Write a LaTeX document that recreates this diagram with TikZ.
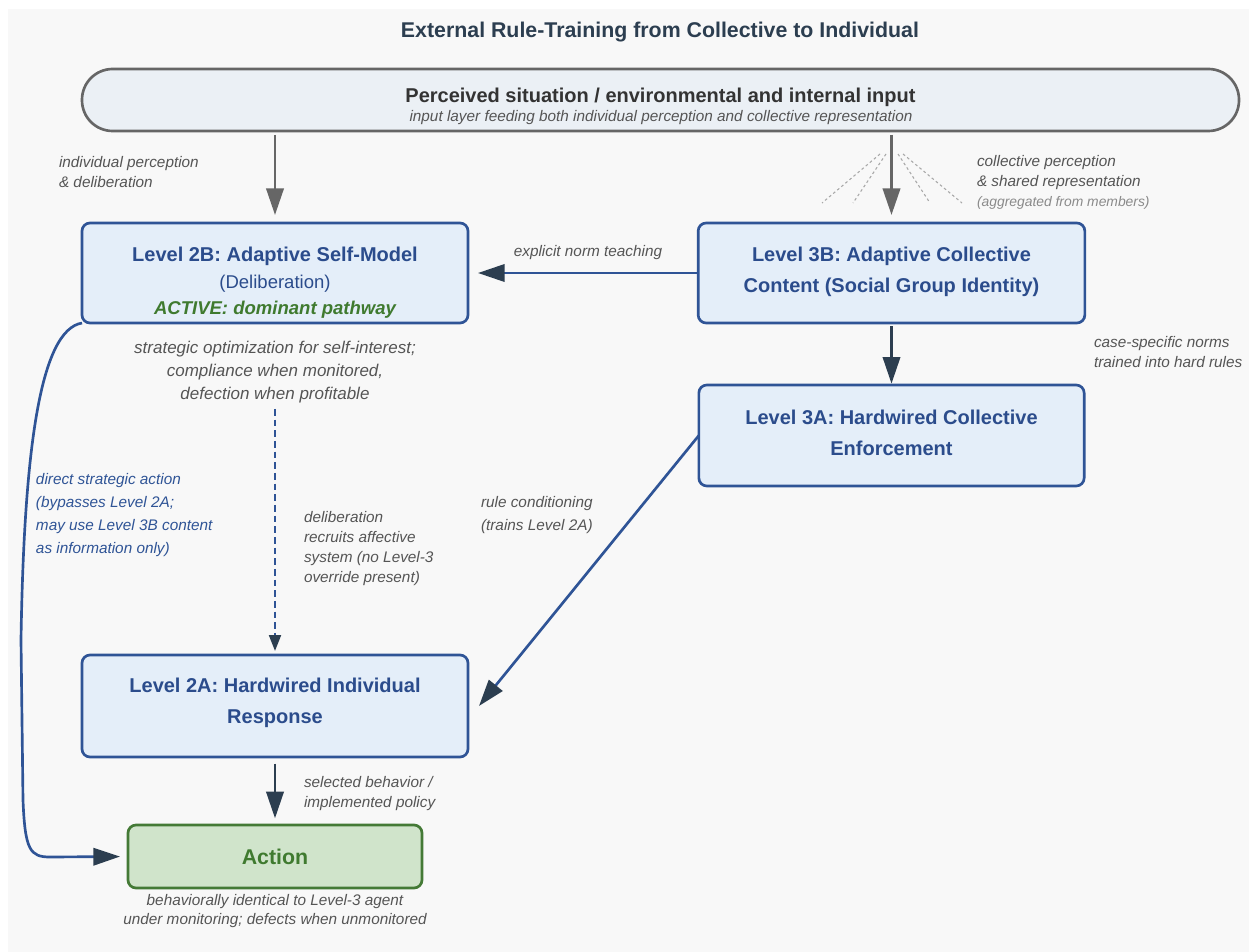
\documentclass[tikz,border=0pt]{standalone}
\usepackage{fontspec}
\setmainfont{Liberation Sans}
\usetikzlibrary{arrows.meta}

\definecolor{panel}{HTML}{F8F8F8}
\definecolor{titlecol}{HTML}{2C3E50}
\definecolor{inputfill}{HTML}{EBF0F5}
\definecolor{inputline}{HTML}{666666}
\definecolor{inputtext}{HTML}{333333}
\definecolor{notegray}{HTML}{555555}
\definecolor{faintgray}{HTML}{8A8A8A}
\definecolor{fangray}{HTML}{A8A8A8}
\definecolor{boxfill}{HTML}{E4EEF9}
\definecolor{boxline}{HTML}{2F5496}
\definecolor{boxtext}{HTML}{2B4C8C}
\definecolor{headdark}{HTML}{2C3E50}
\definecolor{actfill}{HTML}{D0E4CB}
\definecolor{actline}{HTML}{447A36}
\definecolor{acttext}{HTML}{3F7A2F}

\begin{document}
\begin{tikzpicture}[x=0.75pt,y=-0.75pt,
  every node/.style={inner sep=0pt, outer sep=0pt},
  levelbox/.style={draw=boxline, fill=boxfill, line width=2pt, rounded corners=6pt},
  inputbox/.style={draw=inputline, fill=inputfill, line width=2pt, rounded corners=23pt},
  actionbox/.style={draw=actline, fill=actfill, line width=2pt, rounded corners=6pt},
  boxhead/.style={text=boxtext, font=\fontsize{15}{23.25}\selectfont\bfseries, align=center},
  note/.style={text=notegray, font=\fontsize{11.5}{15}\selectfont\itshape},
  feed/.style={draw=inputline, line width=2.2pt, -{Triangle[length=20pt,width=13pt]}},
  link/.style={draw=boxline, line width=2pt, -{Triangle[length=20pt,width=13pt,color=headdark]}},
  darklink/.style={draw=headdark, line width=2pt, -{Triangle[length=20pt,width=13pt]}},
  dashlink/.style={draw=boxline, line width=1.5pt, dash pattern=on 5pt off 3pt,
    -{Triangle[length=12pt,width=9pt,color=headdark]}},
  fan/.style={draw=fangray, line width=0.8pt, dash pattern=on 2pt off 2pt},
]
% canvas and panel
\useasboundingbox (0,0) rectangle (1249,952);
\fill[white] (0,0) rectangle (1249,952);
\fill[panel] (8,9) rectangle (1249,952);

% title
\node[font=\fontsize{16}{19}\selectfont\bfseries, text=titlecol] (title) at (660,32)
  {External Rule-Training from Collective to Individual};

% input layer
\node[inputbox, minimum width=867.75pt, minimum height=46.5pt] (bIn) at (660.5,100) {};
\node[font=\fontsize{15}{18}\selectfont\bfseries, text=inputtext] (inHead) at (660.5,97)
  {Perceived situation / environmental and internal input};
\node[note] (inSub) at (661,118)
  {input layer feeding both individual perception and collective representation};

% level boxes
\node[levelbox, minimum width=289.5pt, minimum height=75pt] (b2B) at (275,273) {};
\node[boxhead] (t2Ba) at (275,256) {Level 2B: Adaptive Self-Model};
\node[text=boxtext, font=\fontsize{13.9}{16}\selectfont] (t2Bb) at (275,284) {(Deliberation)};
\node[text=acttext, font=\fontsize{13.9}{16}\selectfont\bfseries\itshape] (t2Bc) at (275,310)
  {ACTIVE: dominant pathway};

\node[levelbox, minimum width=290pt, minimum height=75pt] (b3B) at (891.5,273) {};
\node[boxhead] (t3B) at (891.5,271.5) {Level 3B: Adaptive Collective\\Content (Social Group Identity)};

\node[levelbox, minimum width=289pt, minimum height=75.75pt] (b3A) at (891.5,435.5) {};
\node[boxhead] (t3A) at (891.5,432.5) {Level 3A: Hardwired Collective\\Enforcement};

\node[levelbox, minimum width=289.5pt, minimum height=76.5pt] (b2A) at (275,706) {};
\node[boxhead] (t2A) at (275,702.5) {Level 2A: Hardwired Individual\\Response};

\node[actionbox, minimum width=220.5pt, minimum height=47.25pt] (bAct) at (275,856.5) {};
\node[text=acttext, font=\fontsize{16}{19}\selectfont\bfseries] (tAct) at (275,857) {Action};

% notes
\node[note, align=left, anchor=west] (lblInd) at (59,172) {individual perception\\\& deliberation};
\node[note, align=left, anchor=west] (lblCol) at (977,182)
  {collective perception\\\& shared representation\\\textcolor{faintgray}{\fontsize{10.4}{15}\selectfont(aggregated from members)}};
\node[note] (lblTeach) at (588,253) {explicit norm teaching};
\node[note, align=left, anchor=west] (lblCase) at (1094,352) {case-specific norms\\trained into hard rules};
\node[note, font=\fontsize{12.75}{17.25}\selectfont\itshape, align=center] (note2B) at (275,372)
  {strategic optimization for self-interest;\\compliance when monitored,\\defection when profitable};
\node[note, text=boxline, font=\fontsize{11.5}{17.25}\selectfont\itshape, align=left, anchor=west] (lblDirect) at (36,515.5)
  {direct strategic action\\(bypasses Level 2A;\\may use Level 3B content\\as information only)};
\node[note, align=left, anchor=west] (lblRecruit) at (304,549)
  {deliberation\\recruits affective\\system (no Level-3\\override present)};
\node[note, font=\fontsize{11.5}{17.25}\selectfont\itshape, align=left, anchor=west] (lblRule) at (481,515.5)
  {rule conditioning\\(trains Level 2A)};
\node[note, align=left, anchor=west] (lblSel) at (304,794) {selected behavior /\\implemented policy};
\node[note, font=\fontsize{11.5}{14.25}\selectfont\itshape, align=center] (lblAct) at (275,911.5)
  {behaviorally identical to Level-3 agent\\under monitoring; defects when unmonitored};

% aggregation fan under the collective feed
\draw[fan] (880,154) -- (822,203);
\draw[fan] (886,154) -- (853,203);
\draw[fan] (898,154) -- (930,203);
\draw[fan] (903,154) -- (962,203);

% connectors
\draw[feed, shorten <=3pt, shorten >=6pt] (bIn.south -| b2B.north) -- (b2B.north);
\draw[feed, shorten <=3pt, shorten >=6pt] (bIn.south -| b3B.north) -- (b3B.north);
\draw[link, shorten >=7.5pt] (b3B.west) -- (b2B.east);
\draw[darklink, shorten <=2.5pt, shorten >=1pt] (b3B.south) -- (b3A.north);
\draw[link] (b3A.west) -- ([xshift=8.25pt]b2A.east);
\draw[dashlink, shorten <=4.5pt, shorten >=3pt] (note2B.south) -- (b2A.north);
\draw[darklink, shorten <=5pt, shorten >=5pt] (b2A.south) -- (bAct.north);
\draw[link, shorten >=6pt] (b2B.south west) .. controls (40,330) and (24,450) .. (21,640)
  -- (23,800) .. controls (25,850) and (30,857) .. (50,857) -- (bAct.west);
\end{tikzpicture}
\end{document}
